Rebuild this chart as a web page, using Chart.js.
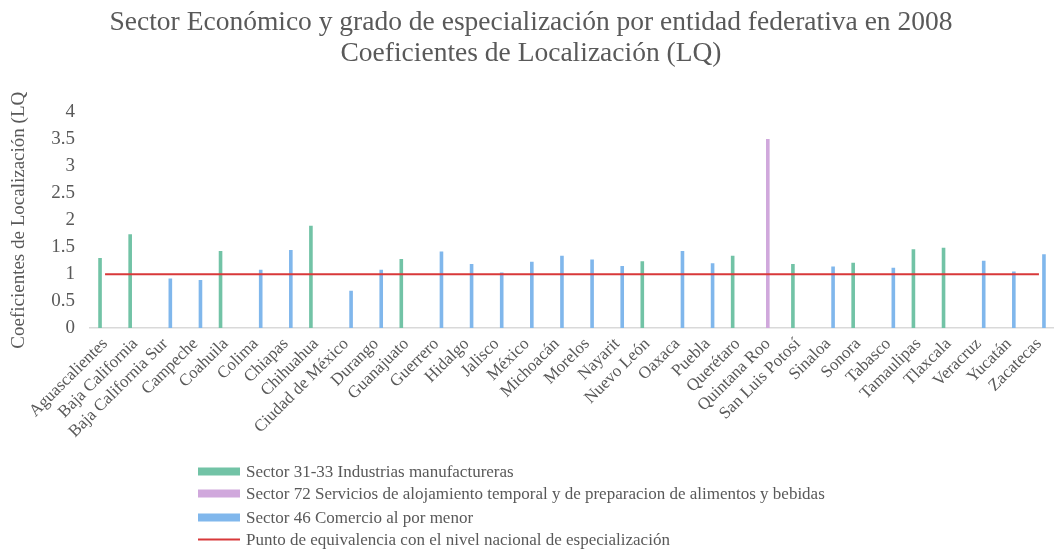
<!DOCTYPE html>
<html>
<head>
<meta charset="utf-8">
<script src="https://cdn.jsdelivr.net/npm/chart.js@4"></script>
<style>
  html, body { margin: 0; padding: 0; background: #fff; }
  #wrap { width: 1054px; height: 550px; position: relative; }
</style>
</head>
<body>
<div id="wrap"><canvas id="c" width="1054" height="550"></canvas></div>
<script>
const estados = ["Aguascalientes","Baja California","Baja California Sur","Campeche","Coahuila","Colima","Chiapas","Chihuahua","Ciudad de México","Durango","Guanajuato","Guerrero","Hidalgo","Jalisco","México","Michoacán","Morelos","Nayarit","Nuevo León","Oaxaca","Puebla","Querétaro","Quintana Roo","San Luis Potosí","Sinaloa","Sonora","Tabasco","Tamaulipas","Tlaxcala","Veracruz","Yucatán","Zacatecas"];

const sector3133 = [1.30,1.74,null,null,1.43,null,null,1.90,null,null,1.28,null,null,null,null,null,null,null,1.24,null,null,1.34,null,1.19,null,1.21,null,1.46,1.49,null,null,null];
const sector72   = [null,null,null,null,null,null,null,null,null,null,null,null,null,null,null,null,null,null,null,null,null,null,3.51,null,null,null,null,null,null,null,null,null];
const sector46   = [null,null,0.92,0.89,null,1.08,1.45,null,0.69,1.08,null,1.42,1.19,1.03,1.23,1.34,1.27,1.15,null,1.43,1.20,null,null,null,1.14,null,1.12,null,null,1.25,1.05,1.37];
const equivalencia = [1,1,1,1,1,1,1,1,1,1,1,1,1,1,1,1,1,1,1,1,1,1,1,1,1,1,1,1,1,1,1,1];

const yTicks = [0,0.5,1,1.5,2,2.5,3,3.5,4];

const labelsSeries = [
  "Sector 31-33 Industrias manufactureras",
  "Sector 72 Servicios de alojamiento temporal y de preparacion de alimentos y bebidas",
  "Sector 46 Comercio al por menor",
  "Punto de equivalencia con el nivel nacional de especialización"
];

const GREEN = "#72c3a6", PURPLE = "#d0a8dc", BLUE = "#80b7ec", RED = "#d8393a";
const GREY = "#595959";
const SERIF = "'Liberation Serif', 'Times New Roman', serif";

const legendPlugin = {
  id: 'sideLegend',
  afterDraw(chart) {
    const ctx = chart.ctx;
    const rows = [471.5, 493.5, 517.5, 539.5];
    const ds = chart.data.datasets;
    ctx.save();
    ctx.font = "17px " + SERIF;
    ctx.textBaseline = "middle";
    ds.forEach((d, i) => {
      const y = rows[i];
      if (d.type === 'line') {
        ctx.strokeStyle = d.borderColor;
        ctx.lineWidth = 2;
        ctx.beginPath();
        ctx.moveTo(198, y);
        ctx.lineTo(240, y);
        ctx.stroke();
      } else {
        ctx.fillStyle = d.backgroundColor;
        ctx.fillRect(198, y - 4, 42, 8);
      }
      ctx.fillStyle = GREY;
      ctx.fillText(d.label, 246, y + 1);
    });
    ctx.restore();
  }
};

new Chart(document.getElementById('c'), {
  data: {
    labels: estados,
    datasets: [
      { type: 'bar', label: labelsSeries[0], data: sector3133, backgroundColor: GREEN, order: 1, categoryPercentage: 0.5, barPercentage: 0.72 },
      { type: 'bar', label: labelsSeries[1], data: sector72, backgroundColor: PURPLE, order: 1, categoryPercentage: 0.5, barPercentage: 0.72 },
      { type: 'bar', label: labelsSeries[2], data: sector46, backgroundColor: BLUE, order: 1, categoryPercentage: 0.5, barPercentage: 0.72 },
      { type: 'line', label: labelsSeries[3], data: equivalencia, borderColor: RED, backgroundColor: RED, borderWidth: 2, pointRadius: 0, order: 0, fill: false }
    ]
  },
  options: {
    responsive: false,
    animation: false,
    layout: { padding: { left: 8, right: 0, top: 0, bottom: 100 } },
    plugins: {
      legend: { display: false },
      tooltip: { enabled: false },
      title: {
        display: true,
        text: ["Sector Económico y grado de especialización por entidad federativa en 2008", "Coeficientes de Localización (LQ)"],
        color: GREY,
        font: { family: SERIF, size: 27.5, weight: 'normal', lineHeight: 1.1 },
        padding: { top: 8, bottom: 44 }
      }
    },
    scales: {
      x: {
        grid: { display: false, drawTicks: false },
        border: { display: true, color: "#d9d9d9", width: 1.5 },
        ticks: {
          color: GREY, font: { family: SERIF, size: 17 },
          minRotation: 45, maxRotation: 45, autoSkip: false, padding: 6
        },
        afterFit(scale) { scale.height = 122; scale.paddingRight = 0; }
      },
      y: {
        min: 0, max: 4,
        grid: { display: false, drawTicks: false },
        border: { display: false },
        afterBuildTicks(scale) { scale.ticks = yTicks.map(v => ({ value: v })); },
        ticks: { color: GREY, font: { family: SERIF, size: 19 }, padding: 15, callback: v => String(v) },
        title: {
          display: true,
          text: "Coeficientes de Localización (LQ",
          color: GREY,
          font: { family: SERIF, size: 19 },
          padding: { top: 0, bottom: 2 }
        },
        afterFit(scale) { scale.width = 82; }
      }
    }
  },
  plugins: [legendPlugin]
});
</script>
</body>
</html>
